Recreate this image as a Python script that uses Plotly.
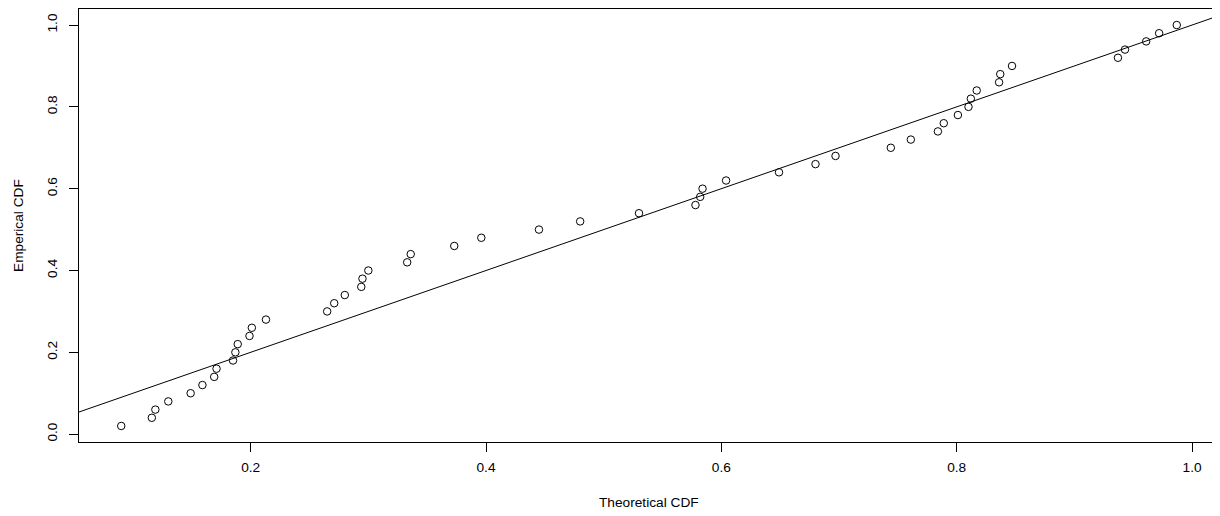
import plotly.graph_objects as go

theoretical = [0.090, 0.116, 0.119, 0.130, 0.149, 0.159, 0.169, 0.171, 0.185, 0.187,
               0.189, 0.199, 0.201, 0.213, 0.265, 0.271, 0.280, 0.294, 0.295, 0.300,
               0.333, 0.336, 0.373, 0.396, 0.445, 0.480, 0.530, 0.578, 0.582, 0.584,
               0.604, 0.649, 0.680, 0.697, 0.744, 0.761, 0.784, 0.789, 0.801, 0.810,
               0.812, 0.817, 0.836, 0.837, 0.847, 0.937, 0.943, 0.961, 0.972, 0.987]
empirical = [round(0.02 * (i + 1), 2) for i in range(50)]
tick_vals = [0.0, 0.2, 0.4, 0.6, 0.8, 1.0]
tick_text = ["0.0", "0.2", "0.4", "0.6", "0.8", "1.0"]


def r_range(v):
    lo, hi = min(v), max(v)
    d = (hi - lo) * 0.04
    return [lo - d, hi + d]


xr = r_range(theoretical)
yr = r_range(empirical)

font = dict(family="Liberation Sans, Arial, sans-serif", size=13.7, color="black")

fig = go.Figure()
fig.add_trace(go.Scatter(x=[-0.5, 1.5], y=[-0.5, 1.5], mode="lines",
                         line=dict(color="black", width=1), hoverinfo="skip"))
fig.add_trace(go.Scatter(x=theoretical, y=empirical, mode="markers",
                         marker=dict(symbol="circle-open", size=7.5,
                                     color="black", line=dict(width=1))))

axis_common = dict(showgrid=False, zeroline=False, showline=True, mirror=True,
                   linecolor="black", linewidth=1, ticks="outside", ticklen=9,
                   tickwidth=1, tickcolor="black", tickfont=font, automargin=False)

# page body has an 8px default margin; figure is sized to fit the 1220x516 window
fig.update_layout(
    width=1212, height=508,
    margin=dict(l=71, r=1, t=1, b=73.5),
    paper_bgcolor="white", plot_bgcolor="white",
    showlegend=False, font=font,
    xaxis=dict(range=xr, tickvals=tick_vals[1:], ticktext=tick_text[1:],
               ticklabelstandoff=4, **axis_common),
    yaxis=dict(range=yr, tickvals=tick_vals, ticktext=tick_text, tickangle=-90,
               ticklabelstandoff=7, **axis_common),
    annotations=[
        dict(text="Theoretical CDF", xref="paper", yref="paper", x=0.5, y=0,
             yshift=-60.5, yanchor="middle", xanchor="center", showarrow=False, font=font),
        dict(text="Emperical CDF", xref="paper", yref="paper", x=0, y=0.5,
             xshift=-60.5, xanchor="center", yanchor="middle", textangle=-90,
             showarrow=False, font=font),
    ],
)

fig.write_html("out.html")
